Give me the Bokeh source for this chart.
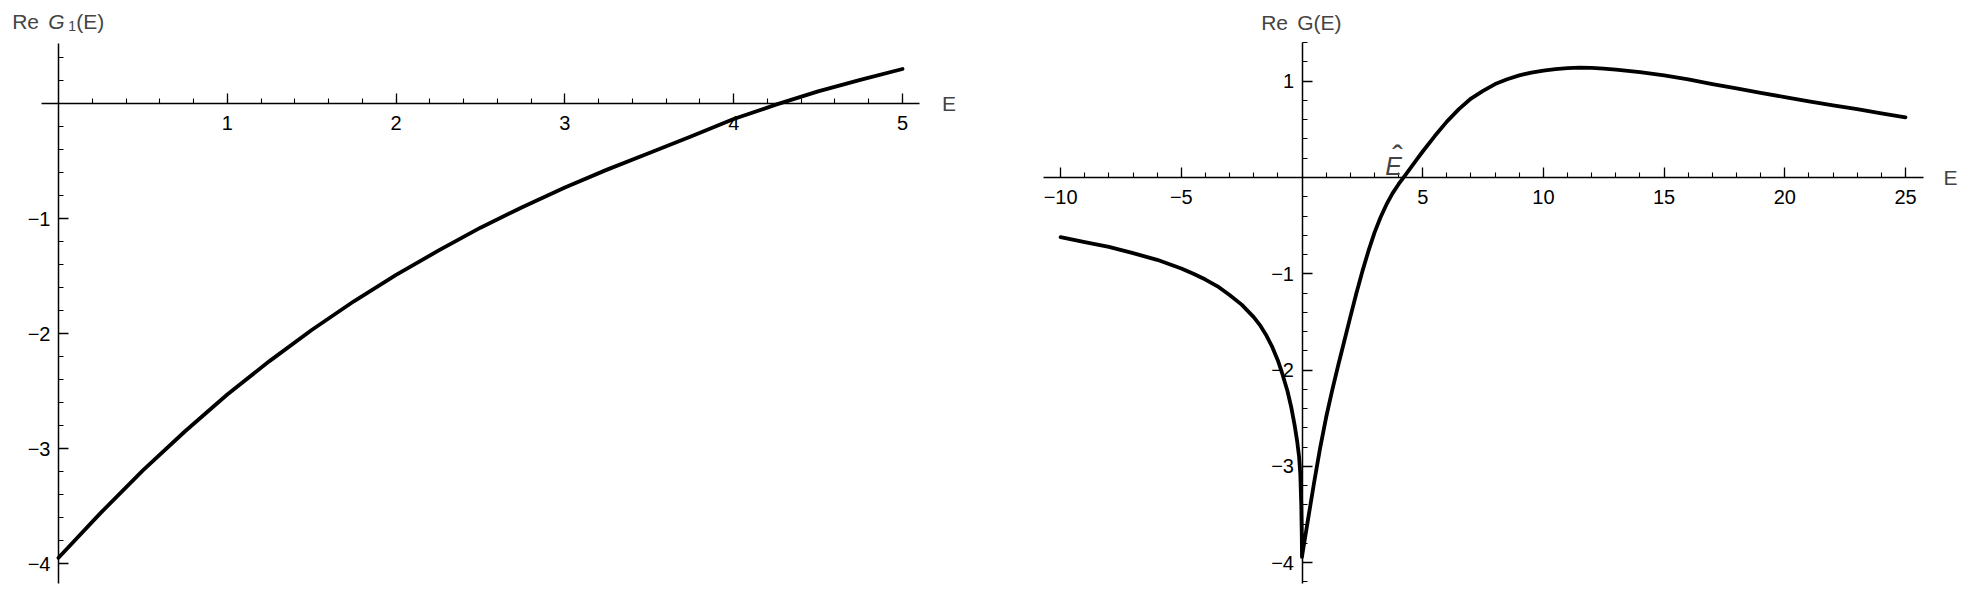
import numpy as np
from bokeh.plotting import figure
from bokeh.models import Label, FixedTicker, Range1d
from bokeh.layouts import row
from bokeh.embed import file_html
from bokeh.resources import INLINE

# ---------------- data ----------------
# Left panel: Re G1(E)
e1 = [0, 0.25, 0.5, 0.75, 1.0, 1.25, 1.5, 1.75, 2.0, 2.25, 2.5, 2.75,
      3.0, 3.25, 3.5, 3.75, 4.0, 4.25, 4.5, 4.75, 5.0]
g1 = [-3.95, -3.56, -3.19, -2.85, -2.53, -2.24, -1.97, -1.72, -1.49, -1.28,
      -1.08, -0.90, -0.73, -0.575, -0.43, -0.285, -0.135, -0.01, 0.105, 0.205, 0.30]

# Right panel: Re G(E), branch E < 0
e_neg = [-10, -9, -8, -7, -6, -5, -4.5, -4, -3.5, -3, -2.5, -2, -1.75, -1.5,
         -1.25, -1.0, -0.8, -0.6, -0.45, -0.3, -0.2, -0.12, -0.07, -0.03, -0.01, 0]
g_neg = [-0.62, -0.67, -0.72, -0.785, -0.855, -0.945, -1.0, -1.06, -1.13, -1.22,
         -1.32, -1.45, -1.53, -1.63, -1.75, -1.90, -2.05, -2.22, -2.38, -2.58,
         -2.74, -2.90, -3.08, -3.40, -3.70, -3.94]
# Right panel: branch E > 0
e_pos = [0.01, 0.25, 0.5, 0.75, 1.0, 1.25, 1.5, 1.75, 2.0, 2.25, 2.5, 2.75, 3.0,
         3.25, 3.5, 3.75, 4.0, 4.25, 4.5, 4.75, 5.0, 5.5, 6.0, 6.5, 7.0, 7.5, 8.0,
         8.5, 9.0, 9.5, 10, 10.5, 11, 11.5, 12, 12.5, 13, 14, 15, 16, 17, 18, 19,
         20, 21, 22, 23, 24, 25]
g_pos = [-3.92, -3.55, -3.17, -2.81, -2.49, -2.21, -1.95, -1.70, -1.45, -1.205,
         -0.975, -0.765, -0.575, -0.415, -0.28, -0.165, -0.07, 0.015, 0.10, 0.185,
         0.27, 0.43, 0.58, 0.71, 0.82, 0.90, 0.97, 1.02, 1.06, 1.09, 1.11, 1.125,
         1.135, 1.14, 1.138, 1.13, 1.12, 1.095, 1.06, 1.02, 0.97, 0.925, 0.88,
         0.835, 0.79, 0.75, 0.71, 0.665, 0.625]

# tick labels
left_xticks = [1, 2, 3, 4, 5]
left_xlabels = ["1", "2", "3", "4", "5"]
left_yticks = [-4, -3, -2, -1]
left_ylabels = ["\u22124", "\u22123", "\u22122", "\u22121"]
right_xticks = [-10, -5, 5, 10, 15, 20, 25]
right_xlabels = ["\u221210", "\u22125", "5", "10", "15", "20", "25"]
right_yticks = [-4, -3, -2, -1, 1]
right_ylabels = ["\u22124", "\u22123", "\u22122", "\u22121", "1"]

FONT = "Liberation Sans"
TICK_SIZE = "20px"
LAB_SIZE = "21px"
H = 586


def style_axes(p, xt, xl, xminor, yt, yl, yminor, xb, yb):
    p.outline_line_color = None
    p.grid.visible = False
    for ax in (p.xaxis[0], p.yaxis[0]):
        ax.fixed_location = 0
        ax.axis_line_width = 1.5
        ax.axis_line_color = "black"
        ax.major_tick_line_color = "black"
        ax.minor_tick_line_color = "black"
        ax.major_tick_line_width = 1.3
        ax.minor_tick_line_width = 1.1
        ax.major_tick_in = 10
        ax.major_tick_out = 0
        ax.minor_tick_in = 5
        ax.minor_tick_out = 0
        ax.major_label_text_font = FONT
        ax.major_label_text_font_size = TICK_SIZE
        ax.major_label_text_color = "black"
    p.xaxis[0].ticker = FixedTicker(ticks=xt, minor_ticks=xminor)
    p.yaxis[0].ticker = FixedTicker(ticks=yt, minor_ticks=yminor)
    p.xaxis[0].major_label_overrides = {t: s for t, s in zip(xt, xl)}
    p.yaxis[0].major_label_overrides = {t: s for t, s in zip(yt, yl)}
    p.xaxis[0].bounds = xb
    p.yaxis[0].bounds = yb
    p.xaxis[0].major_label_standoff = 12
    p.yaxis[0].major_label_standoff = 8


def mk(width, xr, yr):
    p = figure(width=width, height=H, x_range=Range1d(*xr), y_range=Range1d(*yr),
               output_backend="svg", toolbar_location=None)
    p.min_border = 0
    p.min_border_left = 0
    p.min_border_right = 0
    p.min_border_top = 0
    p.min_border_bottom = 0
    p.background_fill_color = "white"
    p.border_fill_color = "white"
    return p


# ---------------- left panel ----------------
W1 = 960
# pixel mapping: x_px = 58 + 168.8*E ; y_px = 103 - 115*G
sx1, ox1 = 168.8, 58.0
sy1, oy1 = 115.0, 103.0
xr1 = ((0 - ox1) / sx1, (W1 - ox1) / sx1)
yr1 = (-(H - oy1) / sy1, oy1 / sy1)
p1 = mk(W1, xr1, yr1)
style_axes(p1, left_xticks, left_xlabels, list(np.round(np.arange(0.2, 5.01, 0.2), 3)),
           left_yticks, left_ylabels, list(np.round(np.arange(-4.0, 0.41, 0.2), 3)),
           (-0.1, 5.1), (-4.17, 0.52))
p1.line(e1, g1, line_color="black", line_width=3.8, line_join="round", line_cap="round")

p1.add_layout(Label(x=(941.5 - ox1) / sx1, y=0, text="E", text_font=FONT,
                    text_font_size=LAB_SIZE, text_baseline="middle", text_align="left"))
lx1 = (11.7 - ox1) / sx1
ly1 = (oy1 - 21) / sy1
p1.add_layout(Label(x=lx1, y=ly1, text="Re", text_font=FONT, text_font_size=LAB_SIZE,
                    text_baseline="alphabetic"))
p1.add_layout(Label(x=lx1, y=ly1, x_offset=36, text="G", text_font=FONT,
                    text_font_size=LAB_SIZE, text_font_style="italic",
                    text_baseline="alphabetic"))
p1.add_layout(Label(x=lx1, y=ly1, x_offset=56, y_offset=-4, text="1", text_font=FONT,
                    text_font_size="14px", text_baseline="alphabetic"))
p1.add_layout(Label(x=lx1, y=ly1, x_offset=64, text="(E)", text_font=FONT,
                    text_font_size=LAB_SIZE, text_baseline="alphabetic"))

# ---------------- right panel ----------------
W2 = 1000
# pixel mapping: x_px = 1301.5 + 24.14*E ; y_px = 177 - 96.3*G
sx2, ox2 = 24.14, 1301.5
sy2, oy2 = 96.3, 177.0
x0 = W1
xr2 = ((x0 - ox2) / sx2, (x0 + W2 - ox2) / sx2)
yr2 = (-(H - oy2) / sy2, oy2 / sy2)
p2 = mk(W2, xr2, yr2)
style_axes(p2, right_xticks, right_xlabels, list(range(-10, 26)),
           right_yticks, right_ylabels, list(np.round(np.arange(-4.2, 1.41, 0.2), 3)),
           (-10.72, 25.73), (-4.22, 1.40))
p2.line(e_neg + e_pos, g_neg + g_pos, line_color="black", line_width=3.8,
        line_join="round", line_cap="round")

p2.add_layout(Label(x=(1943 - ox2) / sx2, y=0, text="E", text_font=FONT,
                    text_font_size=LAB_SIZE, text_baseline="middle", text_align="left"))
lx2 = (1260.7 - ox2) / sx2
ly2 = (oy2 - 22) / sy2
p2.add_layout(Label(x=lx2, y=ly2, text="Re", text_font=FONT, text_font_size=LAB_SIZE,
                    text_baseline="alphabetic"))
p2.add_layout(Label(x=lx2, y=ly2, x_offset=36, text="G(E)", text_font=FONT,
                    text_font_size=LAB_SIZE, text_baseline="alphabetic"))
# E-hat annotation: italic E with a separate, raised circumflex
p2.add_layout(Label(x=(1393 - ox2) / sx2, y=(oy2 - 165) / sy2, text="E",
                    text_font=FONT, text_font_size="25px", text_font_style="italic",
                    text_align="center", text_baseline="alphabetic"))
p2.add_layout(Label(x=(1397 - ox2) / sx2, y=(oy2 - 156) / sy2, text="\u02c6",
                    text_font=FONT, text_font_size="32px",
                    text_align="center", text_baseline="alphabetic"))

layout = row(p1, p2)
open("out.html", "w").write(file_html(layout, INLINE))
